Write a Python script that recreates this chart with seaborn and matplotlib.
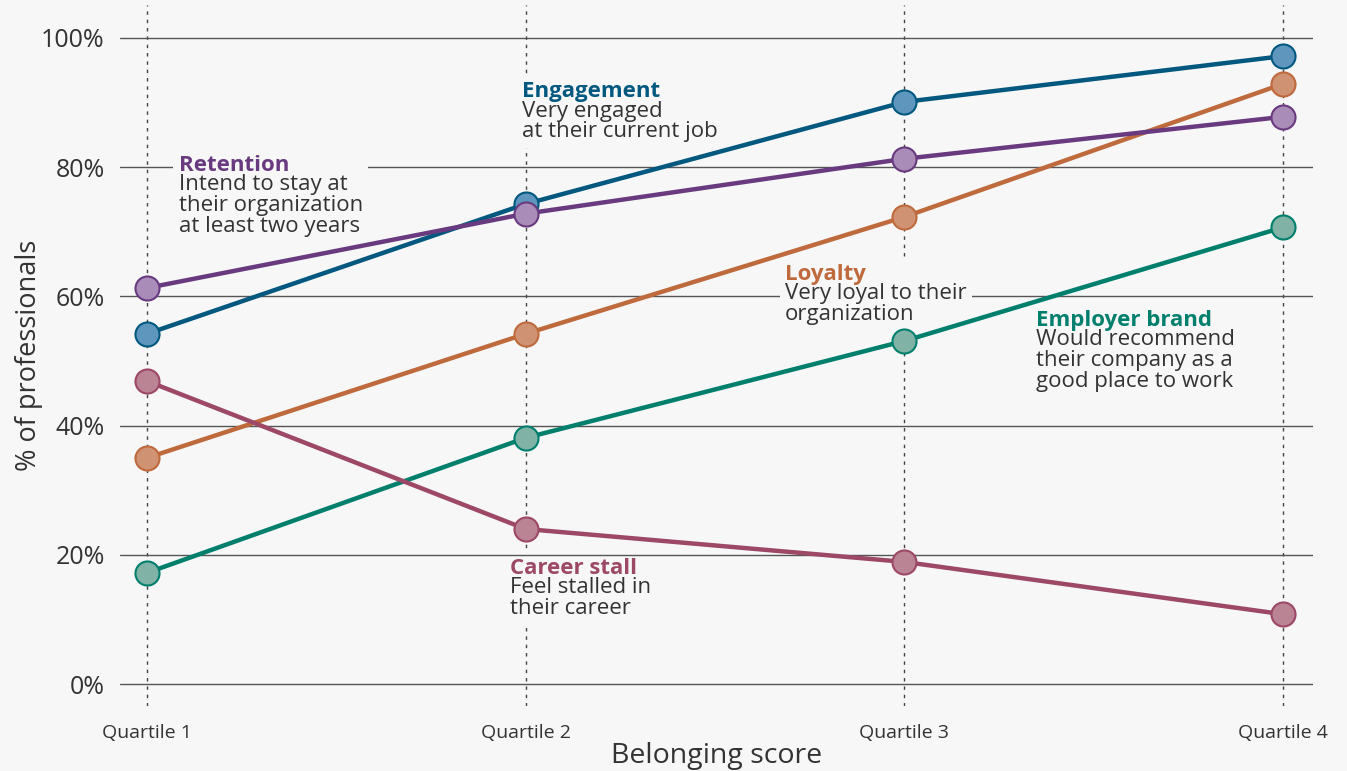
import matplotlib
matplotlib.use("Agg")
import matplotlib.pyplot as plt
from matplotlib.offsetbox import TextArea, VPacker, AnnotationBbox
import seaborn as sns
import pandas as pd

# ---- data ----
quartiles = ["Quartile 1", "Quartile 2", "Quartile 3", "Quartile 4"]
engagement = [54.2, 74.3, 90.1, 97.2]
retention = [61.3, 72.8, 81.3, 87.8]
loyalty = [35.0, 54.2, 72.3, 92.9]
employer_brand = [17.2, 38.1, 53.1, 70.7]
career_stall = [46.9, 24.0, 18.9, 10.8]
y_ticks = [0, 20, 40, 60, 80, 100]
y_tick_labels = ["0%", "20%", "40%", "60%", "80%", "100%"]

series_names = ["Engagement", "Loyalty", "Employer brand", "Career stall", "Retention"]
series_values = [engagement, loyalty, employer_brand, career_stall, retention]
line_colors = ["#02587f", "#bf6a3d", "#007f6d", "#9c4866", "#693a80"]
face_colors = ["#5e96bd", "#cf9272", "#80b2a6", "#ba8494", "#a98db8"]

subtitles = {
    "Engagement": "Very engaged\nat their current job",
    "Retention": "Intend to stay at\ntheir organization\nat least two years",
    "Loyalty": "Very loyal to their\norganization",
    "Employer brand": "Would recommend\ntheir company as a\ngood place to work",
    "Career stall": "Feel stalled in\ntheir career",
}
label_pos = {  # (x, top) in data units
    "Engagement": (0.990, 93.35),
    "Retention": (0.084, 81.95),
    "Loyalty": (1.685, 65.05),
    "Employer brand": (2.348, 57.95),
    "Career stall": (0.959, 19.55),
}
# background boxes sit between the dotted guides and the gridlines for labels
# whose reference keeps the gridline visible
label_z = {"Engagement": 2, "Retention": 2, "Loyalty": 2,
           "Employer brand": 2, "Career stall": 0.65}

BG = "#f7f7f7"
TXT = "#333333"
FONT = ["Open Sans", "DejaVu Sans"]

sns.set_theme(style="white")
plt.rcParams["font.family"] = FONT

fig = plt.figure(figsize=(13.47, 7.71), dpi=100, facecolor=BG)
ax = fig.add_axes([0.0891, 0.0843, 0.8857, 0.9092])
ax.set_facecolor(BG)

x_idx = list(range(len(quartiles)))
rows = []
for name, vals in zip(series_names, series_values):
    for xi, v in zip(x_idx, vals):
        rows.append({"series": name, "x": xi, "value": v})
df = pd.DataFrame(rows)

# gridlines and quartile guides
for t in y_ticks:
    ax.axhline(t, color="#555555", lw=1.0, zorder=0.7)
for xi in x_idx:
    ax.axvline(xi, color="#444444", lw=1.0, ls=(0, (2.5, 3.5)), zorder=0.6)

# lines
for name, lc in zip(series_names, line_colors):
    sub = df[df["series"] == name]
    sns.lineplot(data=sub, x="x", y="value", color=lc, lw=3.2, ax=ax,
                 zorder=3, legend=False)
# markers
for name, lc, fc in zip(series_names, line_colors, face_colors):
    sub = df[df["series"] == name]
    sns.scatterplot(data=sub, x="x", y="value", color=fc, edgecolor=lc,
                    linewidth=1.5, s=300, ax=ax, zorder=4, legend=False)

# annotations
FS = 16
for name, lc in zip(series_names, line_colors):
    x, yt = label_pos[name]
    title = TextArea(name, textprops=dict(fontsize=FS, fontweight="bold",
                                          color=lc, family=FONT))
    body = TextArea(subtitles[name], textprops=dict(fontsize=FS, color=TXT,
                                                    family=FONT, linespacing=0.98))
    pack = VPacker(children=[title, body], align="left", pad=0, sep=-1)
    ab = AnnotationBbox(pack, (x, yt), xycoords="data", box_alignment=(0, 1),
                        frameon=True, pad=0.35,
                        bboxprops=dict(facecolor=BG, edgecolor="none"))
    ab.set_zorder(label_z[name])
    ax.add_artist(ab)

ax.set_xlim(-0.071, 3.079)
ax.set_ylim(-3.4, 105.1)
ax.set_xticks(x_idx)
ax.set_xticklabels(quartiles, fontsize=14, color=TXT)
ax.set_yticks(y_ticks)
ax.set_yticklabels(y_tick_labels, fontsize=18, color=TXT)
ax.tick_params(axis="x", length=0, pad=13)
ax.tick_params(axis="y", length=0, pad=11)
ax.set_xlabel("Belonging score", fontsize=20.5, color=TXT, labelpad=0)
ax.set_ylabel("% of professionals", fontsize=19.5, color=TXT, labelpad=-1)
for s in ax.spines.values():
    s.set_visible(False)

fig.savefig("out.png", dpi=100, facecolor=BG)
